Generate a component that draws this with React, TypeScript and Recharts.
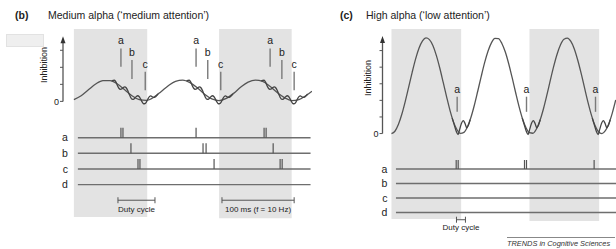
import React from 'react';
import {
  ComposedChart,
  Line,
  Scatter,
  XAxis,
  YAxis,
  ReferenceArea,
  ReferenceLine,
  ReferenceDot,
} from 'recharts';

const INK = '#555';
const MARK = '#7a7a7a';
const BAND = '#e3e3e3';
const TEXT = '#222';
const FONT = '"Liberation Sans", Arial, Helvetica, sans-serif';

const ROWS = ['a', 'b', 'c', 'd'];
const ROW_Y = [4, 3, 2, 1];

// (b) medium alpha: time in ms, inhibition in tick units
const B_BANDS = [[0, 101], [200, 300]];
const B_ALPHA_T = [0, 10, 20, 30, 40, 50, 60, 70, 80, 90, 100, 110, 120, 130, 140, 150, 160,
  170, 180, 190, 200, 210, 220, 230, 240, 250, 260, 270, 280, 290, 300, 310, 320, 328];
const B_ALPHA = [0.1, 0.33, 0.68, 1.02, 1.22, 1.22, 1.02, 0.68, 0.33, 0.1, 0.06, 0.24, 0.57, 0.92,
  1.18, 1.25, 1.1, 0.8, 0.42, 0.15, 0.05, 0.18, 0.47, 0.84, 1.13, 1.25, 1.17, 0.89, 0.52, 0.22,
  0.05, 0.1, 0.35, 0.6];
// gamma ripple riding on the down slope, one entry per cycle
const B_GAMMA_T = [52, 54, 56, 58, 60, 62, 64, 66, 68, 70, 72, 74, 76, 78, 80, 82, 84, 86, 88, 90,
  92, 94, 96, 98, 100, 102, 104, 106, 108, 110, 112, 114, 116];
const B_GAMMA = [1.2, 1.23, 1.24, 1.13, 0.93, 0.77, 0.71, 0.73, 0.81, 0.85, 0.8, 0.65, 0.44, 0.25,
  0.13, 0.12, 0.2, 0.29, 0.33, 0.27, 0.13, -0.03, -0.14, -0.13, -0.03, 0.14, 0.28, 0.32, 0.27,
  0.23, 0.26, 0.34, 0.43];
const B_CYCLES = [0, 103, 206];
const B_MARKS = ['a', 'b', 'c'];
const B_MARK_T = [[64.8, 168.3, 270.3], [80, 184.4, 286.5], [98.3, 202.3, 303.4]];
const B_MARK_TOP = [3.11, 2.43, 1.74];
const B_MARK_BOTTOM = [2.03, 1.31, 0.66];
const B_SPIKES = [
  [64.8, 67.6, 168.3, 262, 264.8],
  [78.6, 177.9, 182.1, 274.5],
  [88.3, 91, 193.1, 284.1, 286.9],
  [],
];
const B_BAR_TEXT = ['Duty cycle', '100 ms (f = 10 Hz)'];
const B_BAR_FROM = [60.7, 204];
const B_BAR_TO = [111.7, 303.4];

// (c) high alpha
const C_BANDS = [[0, 101], [200, 301]];
const C_ALPHA_T = [0, 5, 10, 15, 20, 25, 30, 35, 40, 45, 50, 55, 60, 65, 70, 75, 80, 85, 90, 95,
  100, 105, 110, 115, 120, 125, 130, 135, 140, 145, 150, 155, 160, 165, 170, 175, 180, 185, 190,
  195, 200, 205, 210, 215, 220, 225, 230, 235, 240, 245, 250, 255, 260, 265, 270, 275, 280, 285,
  290, 295, 300, 305, 310, 315, 320, 325];
const C_ALPHA = [0, 0.14, 0.54, 1.16, 1.94, 2.81, 3.69, 4.5, 5.15, 5.58, 5.76, 5.66, 5.3, 4.71,
  3.95, 3.08, 2.2, 1.37, 0.69, 0.23, 0.01, 0.07, 0.39, 0.95, 1.69, 2.55, 3.43, 4.27, 4.97, 5.48,
  5.73, 5.72, 5.43, 4.91, 4.19, 3.35, 2.46, 1.61, 0.88, 0.35, 0.05, 0.02, 0.27, 0.76, 1.45, 2.28,
  3.17, 4.03, 4.78, 5.35, 5.68, 5.75, 5.55, 5.1, 4.42, 3.61, 2.72, 1.85, 1.08, 0.48, 0.11, 0,
  0.17, 0.59, 1.23, 2.02];
const C_GAMMA_T = [88, 91, 94, 96.5, 99, 101.5, 104, 106.5, 109, 111.5, 114];
const C_GAMMA = [0.93, 0.52, 0.12, -0.06, 0.28, 0.62, 0.78, 0.62, 0.36, 0.5, 0.83];
const C_CYCLES = [0, 101.5, 203];
const C_MARKS = ['a'];
const C_MARK_T = [[95.2, 195.7, 295.7]];
const C_MARK_TOP = [2.22];
const C_MARK_BOTTOM = [1.31];
const C_SPIKES = [[93.8, 96.7, 192.8, 195.7, 293.7], [], [], []];
const C_BAR_TEXT = ['Duty cycle'];
const C_BAR_FROM = [94.2];
const C_BAR_TO = [107.2];

const arrowHead = (props: any) => (
  <path
    d={`M${props.cx},${props.cy} L${props.cx - 2.5},${props.cy + 7} L${props.cx + 2.5},${props.cy + 7} Z`}
    fill="#333"
  />
);

const spike = (h: number) => (props: any) => (
  <line x1={props.cx} y1={props.cy} x2={props.cx} y2={props.cy - h} stroke={INK} strokeWidth={1.2} />
);

const scaleBar = (props: any) => (
  <g>
    <line x1={props.x1} y1={props.y1} x2={props.x2} y2={props.y2} stroke={INK} strokeWidth={1} />
    <line x1={props.x1} y1={props.y1 - 3} x2={props.x1} y2={props.y1 + 3} stroke={INK} strokeWidth={1} />
    <line x1={props.x2} y1={props.y2 - 3} x2={props.x2} y2={props.y2 + 3} stroke={INK} strokeWidth={1} />
  </g>
);

const PANEL_B = {
  left: 0, width: 316, plotLeft: 63, right: 4, xDomain: [-15, 328],
  topY: 29, topH: 86, yDomain: [-0.8, 4.25], ticks: [0, 1, 2, 3], arrowTop: 3.82,
  rowsY: 115, rowsH: 104, rowDomain: [-1.2, 5.45], bandBottom: [-1.07, -1.16],
  rowStart: 5.5, rowEnd: 326, rowLabelOffset: 10, spikeH: 10, barY: 0, barOffset: 6,
  bands: B_BANDS, alphaT: B_ALPHA_T, alpha: B_ALPHA, gammaT: B_GAMMA_T, gamma: B_GAMMA,
  cycles: B_CYCLES, marks: B_MARKS, markT: B_MARK_T, markTop: B_MARK_TOP, markBottom: B_MARK_BOTTOM,
  spikes: B_SPIKES, barText: B_BAR_TEXT, barFrom: B_BAR_FROM, barTo: B_BAR_TO,
};

const PANEL_C = {
  left: 330, width: 286, plotLeft: 52.5, right: 0, xDomain: [-13, 325.4],
  topY: 29, topH: 118, yDomain: [-0.81, 6.3], ticks: [0, 1, 2, 3, 4, 5], arrowTop: 5.88,
  rowsY: 147, rowsH: 93, rowDomain: [-0.9, 5.52], bandBottom: [0.55, 0.41],
  rowStart: 6.5, rowEnd: 325.4, rowLabelOffset: 8.5, spikeH: 9, barY: 0.5, barOffset: 5,
  bands: C_BANDS, alphaT: C_ALPHA_T, alpha: C_ALPHA, gammaT: C_GAMMA_T, gamma: C_GAMMA,
  cycles: C_CYCLES, marks: C_MARKS, markT: C_MARK_T, markTop: C_MARK_TOP, markBottom: C_MARK_BOTTOM,
  spikes: C_SPIKES, barText: C_BAR_TEXT, barFrom: C_BAR_FROM, barTo: C_BAR_TO,
};

function Panel({ p }: { p: typeof PANEL_B }) {
  const axisW = 20;
  const alphaData = p.alphaT.map((t, i) => ({ t, v: p.alpha[i] }));
  const gammaData = p.cycles.map((c) => p.gammaT.map((t, i) => ({ t: c + t, v: p.gamma[i] })));

  return (
    <>
      <div style={{ position: 'absolute', left: p.left, top: p.topY }}>
        <ComposedChart
          width={p.width}
          height={p.topH}
          margin={{ top: 0, right: p.right, bottom: 0, left: p.plotLeft - axisW }}
        >
          <XAxis type="number" dataKey="t" domain={p.xDomain} hide allowDataOverflow />
          <YAxis
            type="number"
            domain={p.yDomain}
            ticks={p.ticks}
            interval={0}
            width={axisW}
            axisLine={false}
            tickLine={{ stroke: INK }}
            tickSize={3}
            tickMargin={1}
            tick={{ fontSize: 9, fill: TEXT }}
            tickFormatter={(v: number) => (v === 0 ? '0' : '')}
            allowDataOverflow
          />
          {p.bands.map(([x1, x2]) => (
            <ReferenceArea
              key={x1}
              x1={x1}
              x2={x2}
              y1={p.yDomain[0]}
              y2={p.yDomain[1]}
              fill={BAND}
              fillOpacity={1}
              stroke="none"
              ifOverflow="visible"
            />
          ))}
          <ReferenceLine
            segment={[{ x: p.xDomain[0], y: 0 }, { x: p.xDomain[0], y: p.arrowTop - 0.2 }]}
            stroke={INK}
            strokeWidth={1.3}
            ifOverflow="visible"
          />
          <ReferenceDot x={p.xDomain[0]} y={p.arrowTop} r={0} shape={arrowHead} ifOverflow="visible" />
          {p.marks.map((m, i) =>
            p.markT[i].map((t) => (
              <ReferenceLine
                key={`${m}${t}`}
                segment={[{ x: t, y: p.markBottom[i] }, { x: t, y: p.markTop[i] }]}
                stroke={MARK}
                strokeWidth={1.4}
                ifOverflow="visible"
                label={{ value: m, position: 'top', offset: 4, fontSize: 10.5, fill: TEXT }}
              />
            )),
          )}
          <Line
            data={alphaData}
            dataKey="v"
            type="monotone"
            stroke={INK}
            strokeWidth={1.3}
            dot={false}
            isAnimationActive={false}
          />
          {gammaData.map((d, i) => (
            <Line
              key={i}
              data={d}
              dataKey="v"
              type="monotone"
              stroke="#444"
              strokeWidth={1.3}
              dot={false}
              isAnimationActive={false}
            />
          ))}
        </ComposedChart>
      </div>

      <div style={{ position: 'absolute', left: p.left, top: p.rowsY }}>
        <ComposedChart
          width={p.width}
          height={p.rowsH}
          margin={{ top: 0, right: p.right, bottom: 0, left: p.plotLeft }}
        >
          <XAxis type="number" dataKey="t" domain={p.xDomain} hide allowDataOverflow />
          <YAxis type="number" dataKey="y" domain={p.rowDomain} hide allowDataOverflow />
          {p.bands.map(([x1, x2], i) => (
            <ReferenceArea
              key={x1}
              x1={x1}
              x2={x2}
              y1={p.bandBottom[i]}
              y2={p.rowDomain[1]}
              fill={BAND}
              fillOpacity={1}
              stroke="none"
              ifOverflow="visible"
            />
          ))}
          {ROWS.map((r, i) => (
            <ReferenceLine
              key={r}
              segment={[{ x: p.rowStart, y: ROW_Y[i] }, { x: p.rowEnd, y: ROW_Y[i] }]}
              stroke="#6e6e6e"
              strokeWidth={1.4}
              ifOverflow="visible"
              label={{ value: r, position: 'left', offset: p.rowLabelOffset, fontSize: 10.5, fill: TEXT }}
            />
          ))}
          {p.spikes.map((row, i) =>
            row.length ? (
              <Scatter
                key={ROWS[i]}
                data={row.map((t) => ({ t, y: ROW_Y[i] }))}
                shape={spike(p.spikeH)}
                isAnimationActive={false}
              />
            ) : null,
          )}
          {p.barText.map((txt, i) => (
            <ReferenceLine
              key={txt}
              segment={[{ x: p.barFrom[i], y: p.barY }, { x: p.barTo[i], y: p.barY }]}
              shape={scaleBar}
              ifOverflow="visible"
              label={{ value: txt, position: 'bottom', offset: p.barOffset, fontSize: 8, fill: TEXT }}
            />
          ))}
        </ComposedChart>
      </div>
    </>
  );
}

const titleStyle: React.CSSProperties = {
  position: 'absolute',
  fontSize: 10.5,
  lineHeight: '12px',
  whiteSpace: 'nowrap',
};

const sideLabel = (x: number, y: number): React.CSSProperties => ({
  position: 'absolute',
  left: x,
  top: y,
  transform: 'translate(-50%, -50%) rotate(-90deg)',
  fontSize: 9,
  lineHeight: '10px',
  whiteSpace: 'nowrap',
});

export default function App() {
  return (
    <div
      style={{
        position: 'absolute',
        left: 0,
        top: 0,
        width: 616,
        height: 249,
        overflow: 'hidden',
        background: '#fff',
        fontFamily: FONT,
        color: TEXT,
      }}
    >
      <Panel p={PANEL_B} />
      <Panel p={PANEL_C as typeof PANEL_B} />

      <div style={{ ...titleStyle, left: 15, top: 9, fontWeight: 'bold' }}>(b)</div>
      <div style={{ ...titleStyle, left: 48, top: 9 }}>Medium alpha (‘medium attention’)</div>
      <div style={{ ...titleStyle, left: 340, top: 9, fontWeight: 'bold' }}>(c)</div>
      <div style={{ ...titleStyle, left: 366, top: 9 }}>High alpha (‘low attention’)</div>

      <div style={sideLabel(43.5, 64.5)}>Inhibition</div>
      <div style={sideLabel(367.5, 77.5)}>Inhibition</div>

      <div
        style={{
          position: 'absolute',
          left: 6,
          top: 34,
          width: 36,
          height: 11,
          background: '#efefef',
          border: '1px solid #e2e2e2',
        }}
      />

      <div
        style={{
          position: 'absolute',
          left: 507,
          top: 237,
          width: 108,
          borderTop: '1px solid #888',
          paddingTop: 1,
          fontSize: 7.4,
          lineHeight: '9px',
          fontStyle: 'italic',
          whiteSpace: 'nowrap',
          color: '#333',
        }}
      >
        TRENDS in Cognitive Sciences
      </div>
    </div>
  );
}
